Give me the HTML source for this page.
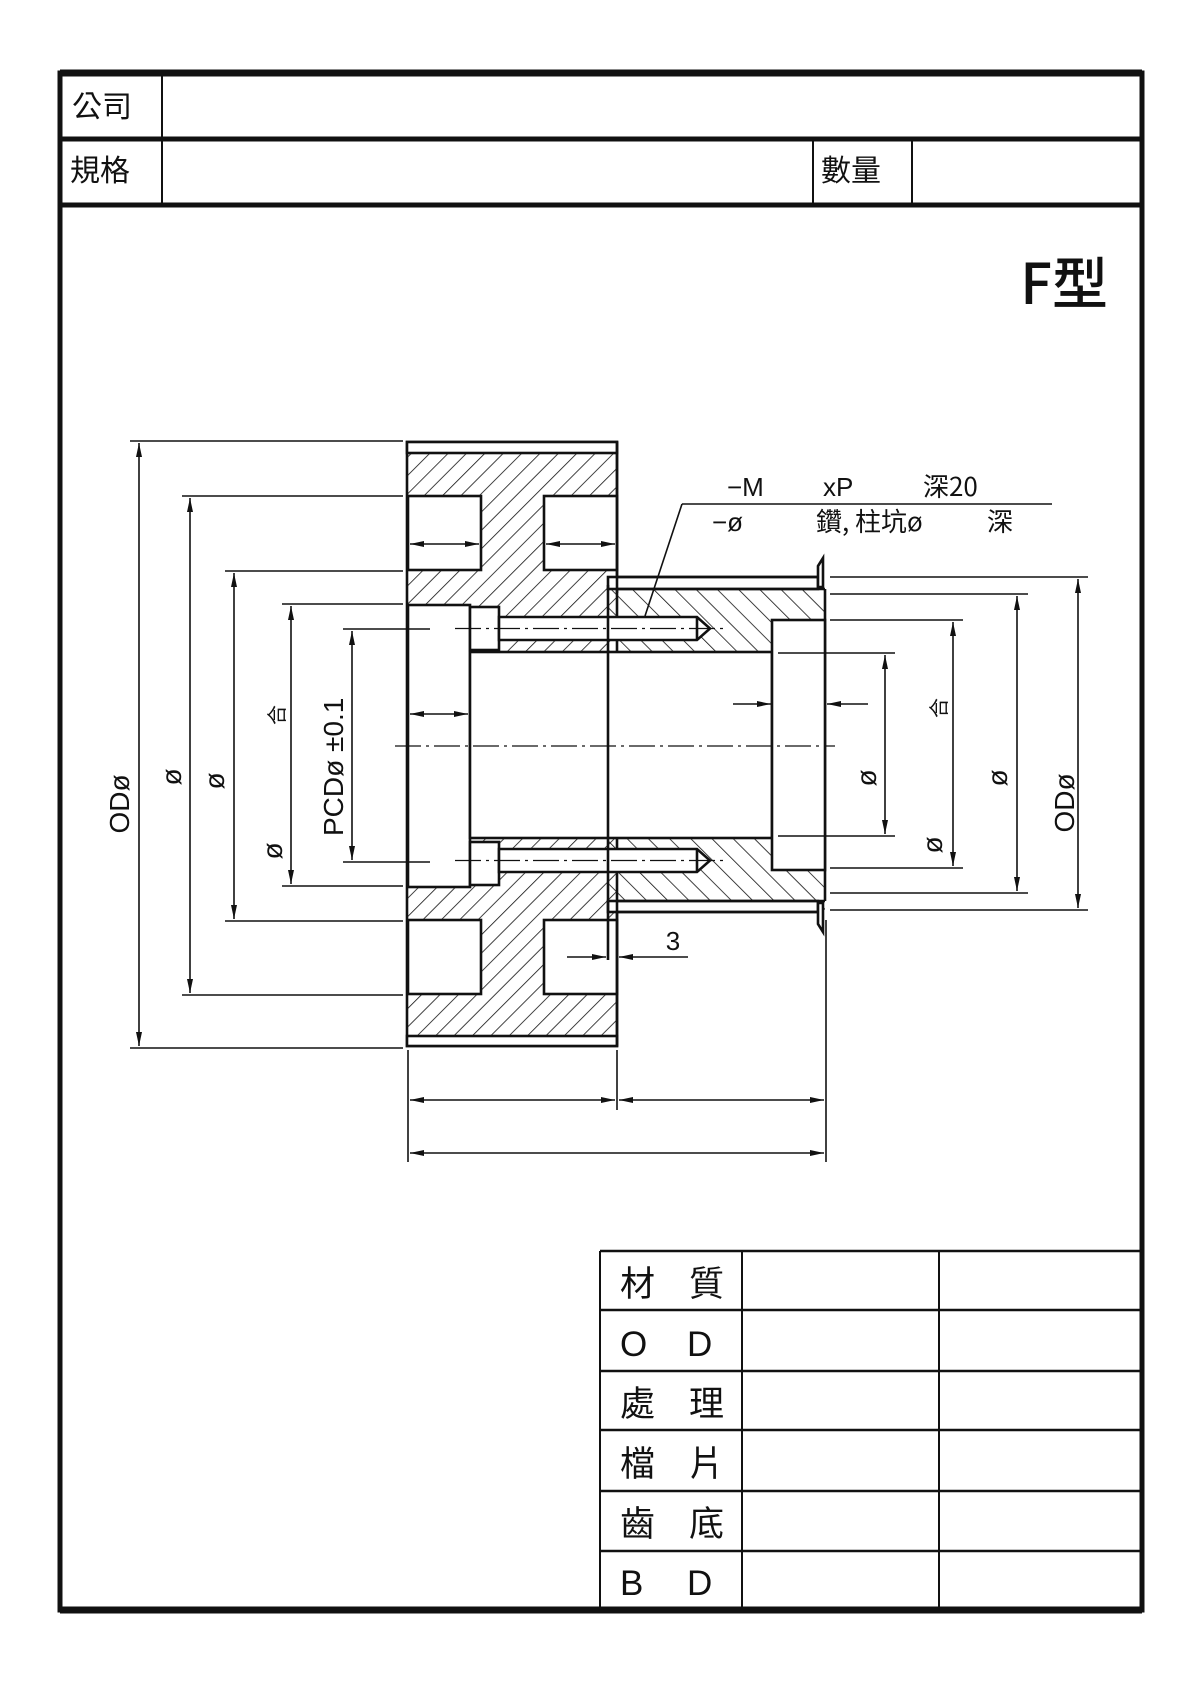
<!DOCTYPE html>
<html><head><meta charset="utf-8"><style>
html,body{margin:0;padding:0;background:#fff;}
svg{display:block}
text{font-family:"Liberation Sans","Noto Sans CJK TC",sans-serif;fill:#111}
.cjk{font-family:"Noto Sans CJK TC","Liberation Sans",sans-serif}
</style></head><body>
<svg width="1200" height="1698" viewBox="0 0 1200 1698" xmlns="http://www.w3.org/2000/svg">
<defs>
<pattern id="h1" patternUnits="userSpaceOnUse" width="13" height="13" patternTransform="rotate(45)">
<line x1="0" y1="0" x2="0" y2="13" stroke="#111" stroke-width="1.6"/></pattern>
<pattern id="h2" patternUnits="userSpaceOnUse" width="15" height="15" patternTransform="rotate(-45)">
<line x1="0" y1="0" x2="0" y2="15" stroke="#111" stroke-width="1.6"/></pattern>
<marker id="a" viewBox="0 0 14 6" refX="14" refY="3" markerWidth="14" markerHeight="6" markerUnits="userSpaceOnUse" orient="auto-start-reverse"><path d="M0,0 L14,3 L0,6 z" fill="#111"/></marker>
</defs>
<!-- frame -->
<rect x="60" y="73" width="1082" height="1537" fill="none" stroke="#111" stroke-width="5"/>
<line x1="60" y1="73" x2="1142" y2="73" stroke="#111" stroke-width="7"/>
<line x1="60" y1="1610" x2="1142" y2="1610" stroke="#111" stroke-width="7"/>
<line x1="60" y1="139" x2="1142" y2="139" stroke="#111" stroke-width="5"/>
<line x1="60" y1="205" x2="1142" y2="205" stroke="#111" stroke-width="5"/>
<line x1="162" y1="73" x2="162" y2="205" stroke="#111" stroke-width="2"/>
<line x1="813" y1="139" x2="813" y2="205" stroke="#111" stroke-width="2"/>
<line x1="912" y1="139" x2="912" y2="205" stroke="#111" stroke-width="2"/>
<text x="72" y="117" font-size="30" class="cjk">公司</text>
<text x="70" y="181" font-size="30" class="cjk">規格</text>
<text x="821" y="181" font-size="30" class="cjk">數量</text>
<text x="1108" y="304" font-size="56" text-anchor="end" class="cjk" font-weight="500">F型</text>

<!-- hub -->
<g stroke="#111" stroke-width="2.6">
<rect x="407" y="453" width="210" height="583" fill="url(#h1)" stroke="none"/>
<rect x="407" y="442" width="210" height="604" fill="none"/>
<rect x="407" y="442" width="210" height="11" fill="#fff"/>
<rect x="407" y="1036" width="210" height="10" fill="#fff"/>
<rect x="408" y="496" width="73" height="74" fill="#fff"/>
<rect x="544" y="496" width="73" height="74" fill="#fff"/>
<rect x="408" y="920" width="73" height="74" fill="#fff"/>
<rect x="544" y="920" width="73" height="74" fill="#fff"/>
<!-- sleeve -->
<rect x="608" y="589" width="217" height="323" fill="url(#h2)" stroke="none"/>
<rect x="608" y="577" width="210" height="12" fill="#fff"/>
<rect x="608" y="901" width="210" height="11" fill="#fff"/>
<line x1="617" y1="577" x2="818" y2="577"/>
<line x1="617" y1="589" x2="825" y2="589"/>
<line x1="617" y1="901" x2="825" y2="901"/>
<line x1="617" y1="912" x2="818" y2="912"/>
<line x1="825" y1="589" x2="825" y2="901"/>
<path d="M818,587 L818,566 L823,558 L823,587 z" fill="#fff"/>
<path d="M818,903 L818,924 L823,932 L823,903 z" fill="#fff"/>
<!-- voids -->
<rect x="408" y="605" width="62" height="282" fill="#fff"/>
<rect x="470" y="607" width="29" height="43" fill="#fff"/>
<rect x="470" y="842" width="29" height="43" fill="#fff"/>
<rect x="470" y="652" width="302" height="186" fill="#fff"/>
<rect x="772" y="620" width="53" height="250" fill="#fff"/>
<path d="M499,617 L697,617 L710,628.5 L697,640 L499,640 z" fill="#fff"/>
<path d="M499,849 L697,849 L710,860.5 L697,872 L499,872 z" fill="#fff"/>
<line x1="697" y1="617" x2="697" y2="640"/>
<line x1="697" y1="849" x2="697" y2="872"/>
<line x1="608" y1="585" x2="608" y2="960"/>
<line x1="617" y1="442" x2="617" y2="593"/>
<line x1="617" y1="900" x2="617" y2="1046"/>
</g>
<!-- centerlines -->
<g stroke="#111" stroke-width="1.3" stroke-dasharray="26,5,3,5">
<line x1="395" y1="746" x2="835" y2="746"/>
<line x1="455" y1="628.5" x2="725" y2="628.5"/>
<line x1="455" y1="860.5" x2="725" y2="860.5"/>
</g>
<!-- leader -->
<g stroke="#111" stroke-width="1.6" fill="none">
<line x1="682" y1="504" x2="1052" y2="504"/>
<line x1="682" y1="504" x2="645" y2="616"/>
</g>
<text x="727" y="496" font-size="26">−M</text>
<text x="823" y="496" font-size="26">xP</text>
<text x="923" y="496" font-size="26" class="cjk">深20</text>
<text x="712" y="531" font-size="26">−ø</text>
<text x="816" y="531" font-size="26" class="cjk">鑽, 柱坑ø</text>
<text x="987" y="531" font-size="26" class="cjk">深</text>

<!-- left dims -->
<g stroke="#111" stroke-width="1.6" fill="none">
<line x1="130" y1="441" x2="403" y2="441"/><line x1="130" y1="1048" x2="403" y2="1048"/>
<line x1="139" y1="443" x2="139" y2="1046" marker-start="url(#a)" marker-end="url(#a)"/>
<line x1="182" y1="496" x2="403" y2="496"/><line x1="182" y1="995" x2="403" y2="995"/>
<line x1="190" y1="498" x2="190" y2="993" marker-start="url(#a)" marker-end="url(#a)"/>
<line x1="225" y1="571" x2="403" y2="571"/><line x1="225" y1="921" x2="403" y2="921"/>
<line x1="234" y1="573" x2="234" y2="919" marker-start="url(#a)" marker-end="url(#a)"/>
<line x1="282" y1="604" x2="403" y2="604"/><line x1="282" y1="886" x2="403" y2="886"/>
<line x1="291" y1="606" x2="291" y2="884" marker-start="url(#a)" marker-end="url(#a)"/>
<line x1="343" y1="629" x2="430" y2="629"/><line x1="343" y1="862" x2="430" y2="862"/>
<line x1="352" y1="631" x2="352" y2="860" marker-start="url(#a)" marker-end="url(#a)"/>
<line x1="410" y1="544" x2="479" y2="544" marker-start="url(#a)" marker-end="url(#a)"/>
<line x1="546" y1="544" x2="615" y2="544" marker-start="url(#a)" marker-end="url(#a)"/>
<line x1="410" y1="714" x2="468" y2="714" marker-start="url(#a)" marker-end="url(#a)"/>
<!-- right dims -->
<line x1="830" y1="577" x2="1088" y2="577"/><line x1="830" y1="910" x2="1088" y2="910"/>
<line x1="1078" y1="579" x2="1078" y2="908" marker-start="url(#a)" marker-end="url(#a)"/>
<line x1="830" y1="594" x2="1028" y2="594"/><line x1="830" y1="893" x2="1028" y2="893"/>
<line x1="1017" y1="596" x2="1017" y2="891" marker-start="url(#a)" marker-end="url(#a)"/>
<line x1="830" y1="620" x2="963" y2="620"/><line x1="830" y1="868" x2="963" y2="868"/>
<line x1="953" y1="622" x2="953" y2="866" marker-start="url(#a)" marker-end="url(#a)"/>
<line x1="778" y1="653" x2="895" y2="653"/><line x1="778" y1="836" x2="895" y2="836"/>
<line x1="885" y1="655" x2="885" y2="834" marker-start="url(#a)" marker-end="url(#a)"/>
<line x1="868" y1="704" x2="827" y2="704" marker-end="url(#a)"/>
<line x1="733" y1="704" x2="771" y2="704" marker-end="url(#a)"/>
<!-- 3 dim -->
<line x1="567" y1="957" x2="606" y2="957" marker-end="url(#a)"/>
<line x1="688" y1="957" x2="619" y2="957" marker-end="url(#a)"/>
<line x1="617" y1="1050" x2="617" y2="1110"/>
<!-- bottom dims -->
<line x1="408" y1="1050" x2="408" y2="1162"/>
<line x1="826" y1="920" x2="826" y2="1162"/>
<line x1="410" y1="1100" x2="615" y2="1100" marker-start="url(#a)" marker-end="url(#a)"/>
<line x1="619" y1="1100" x2="824" y2="1100" marker-start="url(#a)" marker-end="url(#a)"/>
<line x1="410" y1="1153" x2="824" y2="1153" marker-start="url(#a)" marker-end="url(#a)"/>
</g>
<text x="673" y="950" font-size="26" text-anchor="middle">3</text>
<!-- rotated labels -->
<g font-size="28">
<text transform="translate(129,804) rotate(-90)" text-anchor="middle">ODø</text>
<text transform="translate(181,777) rotate(-90)" text-anchor="middle">ø</text>
<text transform="translate(224,781) rotate(-90)" text-anchor="middle">ø</text>
<text transform="translate(284,715) rotate(-90)" text-anchor="middle" class="cjk" font-size="20">合</text>
<text transform="translate(282,851) rotate(-90)" text-anchor="middle">ø</text>
<text transform="translate(343,836) rotate(-90)">PCDø  ±0.1</text>
<text transform="translate(1074,803) rotate(-90)" text-anchor="middle">ODø</text>
<text transform="translate(1007,778) rotate(-90)" text-anchor="middle">ø</text>
<text transform="translate(946,708) rotate(-90)" text-anchor="middle" class="cjk" font-size="20">合</text>
<text transform="translate(942,845) rotate(-90)" text-anchor="middle">ø</text>
<text transform="translate(876,778) rotate(-90)" text-anchor="middle">ø</text>
</g>
<!-- table -->
<g stroke="#111" stroke-width="2.5" fill="none">
<line x1="600" y1="1251" x2="1142" y2="1251"/>
<line x1="600" y1="1310" x2="1142" y2="1310"/>
<line x1="600" y1="1371" x2="1142" y2="1371"/>
<line x1="600" y1="1430" x2="1142" y2="1430"/>
<line x1="600" y1="1491" x2="1142" y2="1491"/>
<line x1="600" y1="1551" x2="1142" y2="1551"/>
<line x1="600" y1="1251" x2="600" y2="1610" stroke-width="2"/>
<line x1="742" y1="1251" x2="742" y2="1610" stroke-width="2"/>
<line x1="939" y1="1251" x2="939" y2="1610" stroke-width="2"/>
</g>
<g font-size="35" class="cjk">
<text x="620" y="1296" class="cjk">材</text><text x="689" y="1296" class="cjk">質</text>
<text x="620" y="1356" font-family="Liberation Sans">O</text><text x="687" y="1356" font-family="Liberation Sans">D</text>
<text x="620" y="1416" class="cjk">處</text><text x="689" y="1416" class="cjk">理</text>
<text x="620" y="1476" class="cjk">檔</text><text x="689" y="1476" class="cjk">片</text>
<text x="620" y="1536" class="cjk">齒</text><text x="689" y="1536" class="cjk">底</text>
<text x="620" y="1595" font-family="Liberation Sans">B</text><text x="687" y="1595" font-family="Liberation Sans">D</text>
</g>
</svg>
</body></html>
